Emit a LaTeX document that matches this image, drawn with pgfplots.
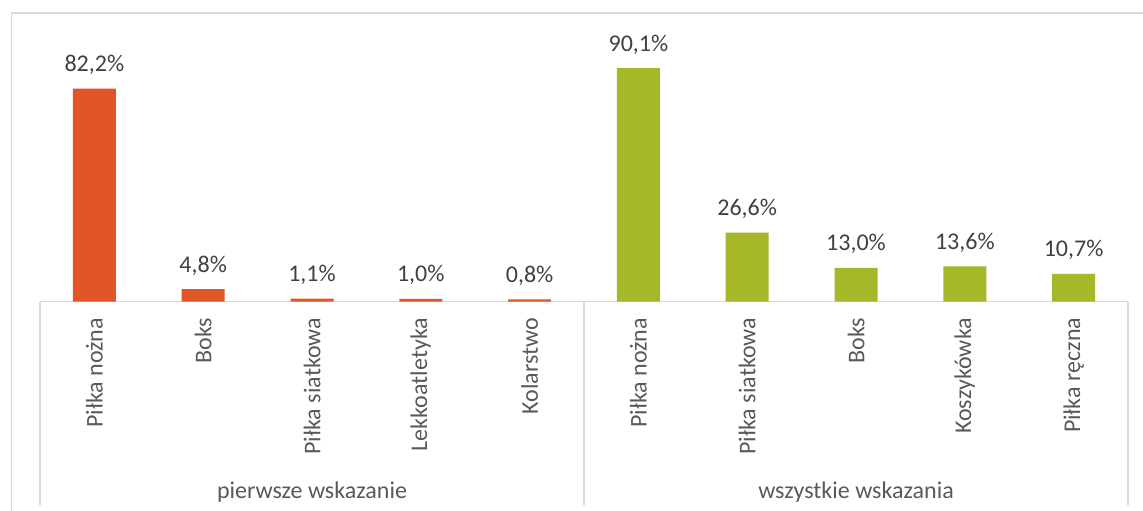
\documentclass[border=0pt]{standalone}
\usepackage{fontspec}
\setmainfont{Carlito}
\usepackage{pgfplots}
\pgfplotsset{compat=1.18}
\definecolor{orng}{HTML}{E15527}
\definecolor{grn}{HTML}{A6B827}
\definecolor{framec}{HTML}{D9D9D9}
\definecolor{txt}{HTML}{595959}
\definecolor{lbl}{HTML}{404040}
\begin{document}
\begin{tikzpicture}[font=\fontsize{12}{14}\selectfont]
\path[use as bounding box] (-20pt,-104.25pt) rectangle (551.5pt,150.75pt);
\draw[framec, line width=0.75pt] (-14.25pt,-110pt) -- (-14.25pt,144.25pt) -- (560pt,144.25pt);
\begin{axis}[
 at={(0pt,0pt)}, anchor=south west,
 scale only axis, width=544pt, height=129.5pt,
 xmin=-0.5, xmax=9.5, ymin=0, ymax=100,
 hide y axis,
 axis x line*=bottom,
 x axis line style={framec, line width=0.75pt, -},
 xtick={0,...,9},
 xticklabels={Piłka nożna, Boks, Piłka siatkowa, Lekkoatletyka, Kolarstwo, Piłka nożna, Piłka siatkowa, Boks, Koszykówka, Piłka ręczna},
 major tick length=0pt,
 xtick style={draw=none},
 xticklabel style={anchor=east, rotate=90, inner xsep=8pt, inner ysep=0pt, text=txt},
 ybar, bar width=21.5pt, bar shift=0pt,
 nodes near coords={\pgfmathprintnumber[fixed,fixed zerofill,precision=1,use comma]{\pgfplotspointmeta}\%},
 every node near coord/.append style={anchor=base, inner sep=0pt, yshift=8.5pt, text=lbl},
 /pgf/number format/assume math mode=true,
 clip=false,
]
\addplot[fill=orng, draw=none] coordinates {(0,82.2) (1,4.8) (2,1.1) (3,1.0) (4,0.8)};
\addplot[fill=grn, draw=none] coordinates {(5,90.1) (6,26.6) (7,13.0) (8,13.6) (9,10.7)};
\draw[framec, line width=0.75pt] (axis cs:-0.5,0) -- ([yshift=-101.75pt]axis cs:-0.5,0);
\draw[framec, line width=0.75pt] (axis cs:4.5,0) -- ([yshift=-101.75pt]axis cs:4.5,0);
\draw[framec, line width=0.75pt] (axis cs:9.5,0) -- ([yshift=-101.75pt]axis cs:9.5,0);
\node[anchor=base, text=txt, yshift=-98.25pt] at (axis cs:2,0) {pierwsze wskazanie};
\node[anchor=base, text=txt, yshift=-98.25pt] at (axis cs:7,0) {wszystkie wskazania};
\end{axis}
\end{tikzpicture}
\end{document}
